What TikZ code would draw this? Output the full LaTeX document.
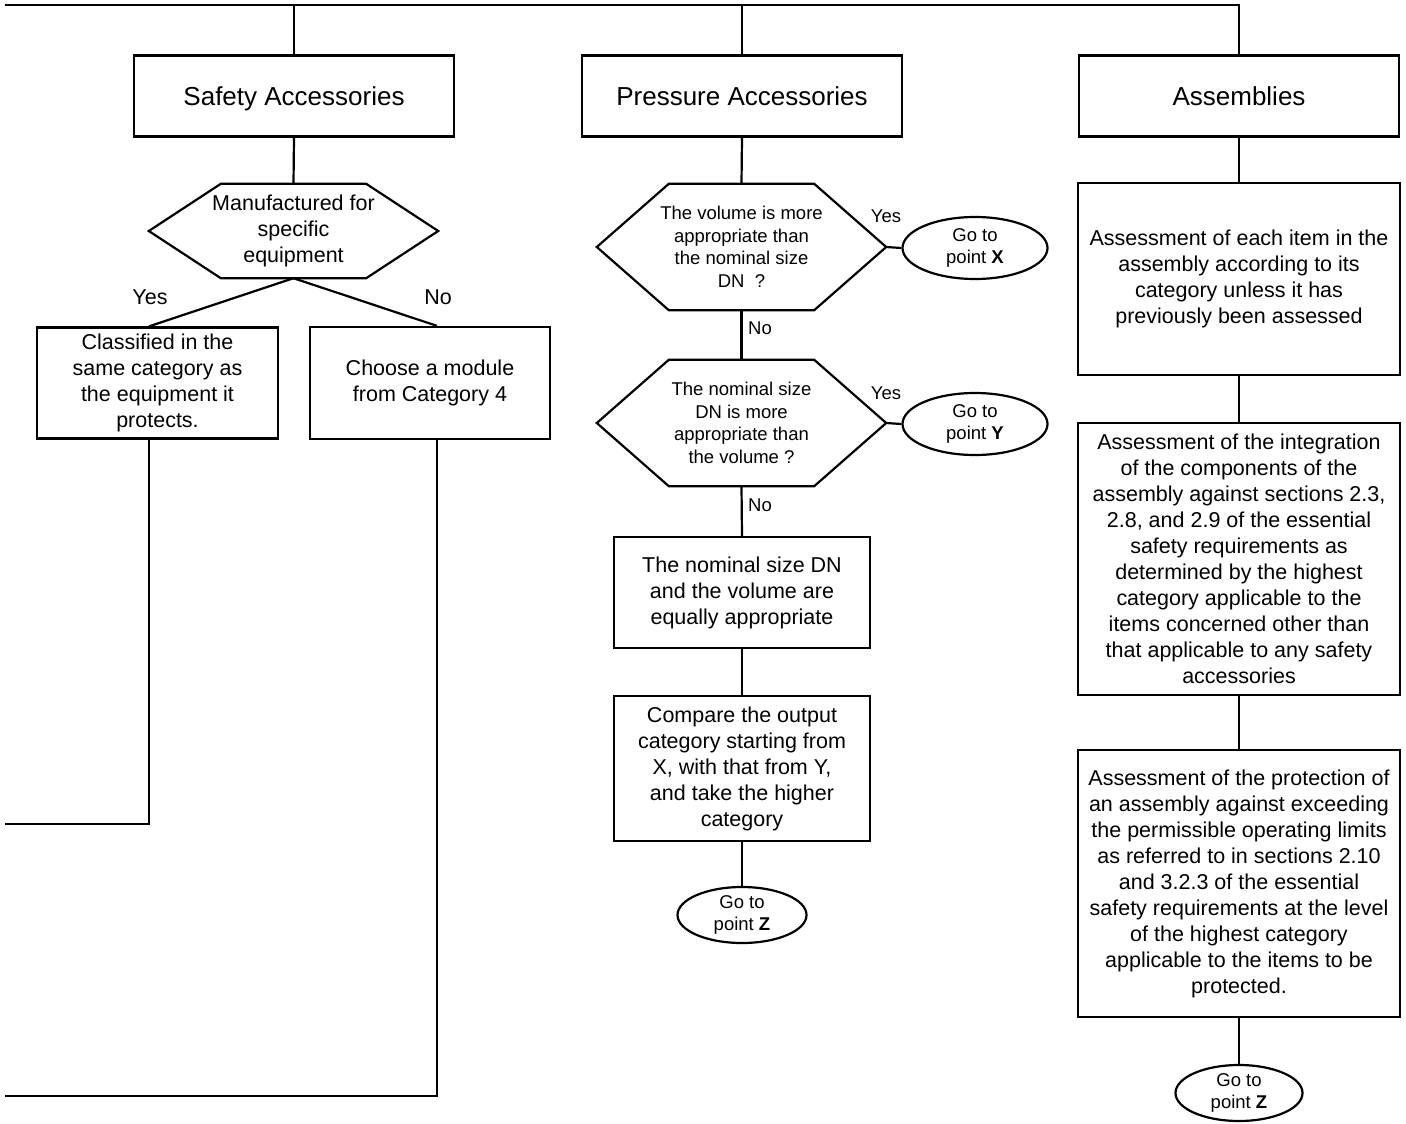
\documentclass[tikz,border=0pt]{standalone}
\usepackage{fontspec}
\setmainfont{Liberation Sans}
\usetikzlibrary{shapes.geometric}
\newcommand\myhex[2]{\draw[ln] (#1.west) -- ([xshift=#2]#1.north west) -- ([xshift=-#2]#1.north east) -- (#1.east) -- ([xshift=-#2]#1.south east) -- ([xshift=#2]#1.south west) -- cycle;}
\begin{document}
\begin{tikzpicture}[x=1pt,y=-1pt,
  ln/.style={line width=2.2pt, line join=miter},
  box/.style={draw, ln, inner sep=0pt, align=center, font=\fontsize{21.5}{26}\selectfont},
  head/.style={draw, ln, inner sep=0pt, minimum width=320pt, minimum height=81pt, text depth=0pt, font=\fontsize{26}{30}\selectfont},
  hexnode/.style={inner sep=0pt, align=center, minimum width=289pt, font=\fontsize{18.5}{22.5}\selectfont},
  goto/.style={draw, ln, ellipse, inner sep=0pt, align=center, font=\fontsize{18.5}{22.5}\selectfont},
  lbl/.style={inner sep=0pt, font=\fontsize{21.5}{26}\selectfont},
  slbl/.style={inner sep=0pt, font=\fontsize{18.5}{22}\selectfont}]
\useasboundingbox (0,0) rectangle (1406,1124);

% headers
\node[head] (saf) at (294,96) {Safety Accessories};
\node[head] (pre) at (742,96) {Pressure Accessories};
\node[head] (asm) at (1239,96) {Assemblies};
\coordinate (tl) at (5,5);
\draw[ln] (tl) -| (asm.north);
\draw[ln] (saf.north) -- (saf.north |- tl);
\draw[ln] (pre.north) -- (pre.north |- tl);

% Safety accessories column
\node[hexnode, minimum height=94pt, font=\fontsize{21.5}{26}\selectfont] (h1) at (293.5,231) {Manufactured for\\specific\\equipment};
\myhex{h1}{72}
\draw[ln] (saf.south) -- (h1.north);
\node[box, minimum width=241pt, minimum height=111pt] (cls) at (157.5,383) {Classified in the\\same category as\\the equipment it\\protects.};
\node[box, minimum width=240pt, minimum height=112pt] (cho) at (430,383) {Choose a module\\from Category 4};
\draw[ln] (h1.south) -- ([xshift=-8.5]cls.north);
\draw[ln] (h1.south) -- ([xshift=7]cho.north);
\node[lbl] (yes1) at (150,297) {Yes};
\node[lbl] (no1) at (438,297) {No};
\coordinate (la) at (5,824);
\coordinate (lb) at (5,1096);
\draw[ln] ([xshift=-8.5]cls.south) |- (la);
\draw[ln] ([xshift=7]cho.south) |- (lb);

% Pressure accessories column
\node[hexnode, minimum height=126pt] (h2) at (741.5,247) {The volume is more\\appropriate than\\the nominal size\\DN\ \ ?};
\myhex{h2}{72}
\draw[ln] (pre.south) -- (h2.north);
\node[goto, minimum width=145pt, minimum height=62pt] (gx) at (975,248) {Go to\\point \textbf{X}};
\draw[ln] (h2.east) -- (gx.west);
\node[slbl] (yes2) at (886,216) {Yes};
\node[hexnode, minimum height=126pt] (h3) at (741.5,423) {The nominal size\\DN is more\\appropriate than\\the volume ?};
\myhex{h3}{72}
\draw[ln] (h2.south) -- (h3.north);
\node[slbl] (no2) at (760,328) {No};
\node[goto, minimum width=145pt, minimum height=62pt] (gy) at (975,424) {Go to\\point \textbf{Y}};
\draw[ln] (h3.east) -- (gy.west);
\node[slbl] (yes3) at (886,393) {Yes};
\node[box, minimum width=256pt, minimum height=111pt] (eq) at (742,592.5) {The nominal size DN\\and the volume are\\equally appropriate};
\draw[ln] (h3.south) -- (eq.north);
\node[slbl] (no3) at (760,505) {No};
\node[box, minimum width=256pt, minimum height=145pt] (cmp) at (742,768.5) {Compare the output\\category starting from\\X, with that from Y,\\and take the higher\\category};
\draw[ln] (eq.south) -- (cmp.north);
\node[goto, minimum width=129pt, minimum height=56pt] (gz1) at (742,915) {Go to\\point \textbf{Z}};
\draw[ln] (cmp.south) -- (gz1.north);

% Assemblies column
\node[box, minimum width=322pt, minimum height=192pt] (a1) at (1239,279) {Assessment of each item in the\\assembly according to its\\category unless it has\\previously been assessed};
\draw[ln] (asm.south) -- (a1.north);
\node[box, minimum width=322pt, minimum height=272pt] (a2) at (1239,559) {Assessment of the integration\\of the components of the\\assembly against sections 2.3,\\2.8, and 2.9 of the essential\\safety requirements as\\determined by the highest\\category applicable to the\\items concerned other than\\that applicable to any safety\\accessories};
\draw[ln] (a1.south) -- (a2.north);
\node[box, minimum width=322pt, minimum height=267pt] (a3) at (1239,883.5) {Assessment of the protection of\\an assembly against exceeding\\the permissible operating limits\\as referred to in sections 2.10\\and 3.2.3 of the essential\\safety requirements at the level\\of the highest category\\applicable to the items to be\\protected.};
\draw[ln] (a2.south) -- (a3.north);
\node[goto, minimum width=127pt, minimum height=56pt] (gz2) at (1239,1093) {Go to\\point \textbf{Z}};
\draw[ln] (a3.south) -- (gz2.north);
\end{tikzpicture}
\end{document}
